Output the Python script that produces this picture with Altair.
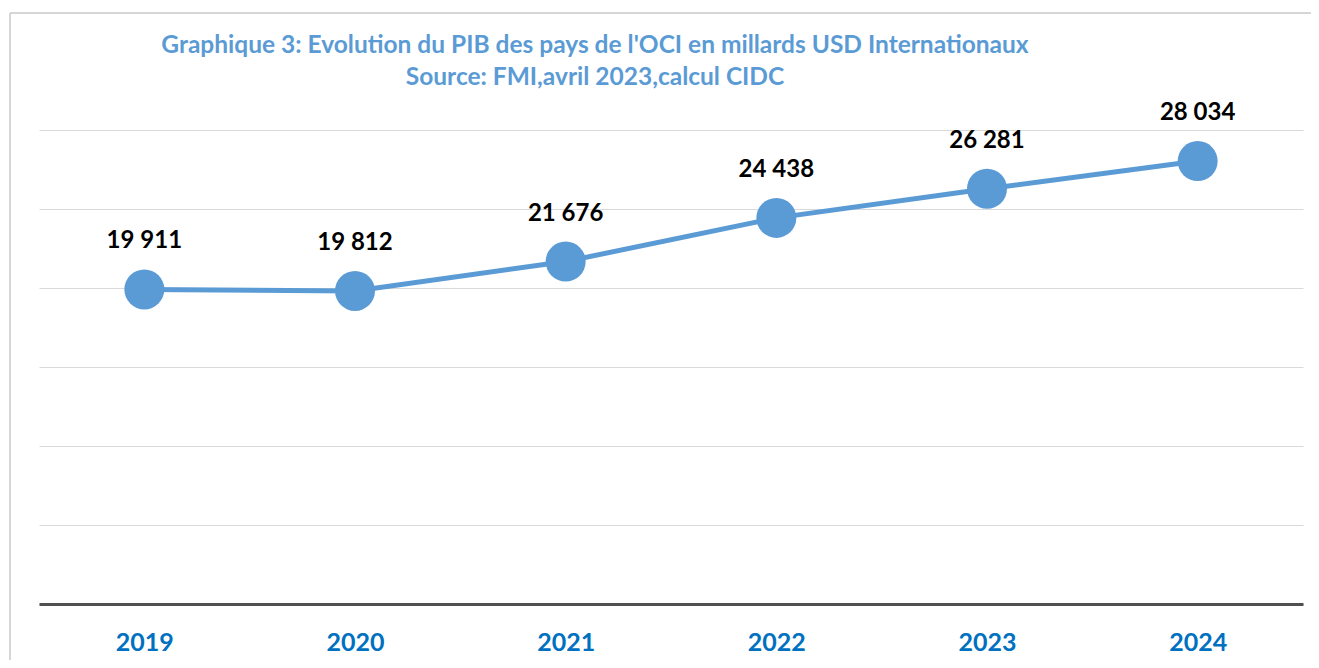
import altair as alt
import pandas as pd

years = ["2019", "2020", "2021", "2022", "2023", "2024"]
pib = [19911, 19812, 21676, 24438, 26281, 28034]
title_lines = [
    "Graphique 3: Evolution du PIB des pays de l'OCI en millards USD Internationaux",
    "Source: FMI,avril 2023,calcul CIDC",
]

df = pd.DataFrame({"annee": years, "pib": pib})
df["label"] = [f"{v:,}".replace(",", " ") for v in pib]

BLUE = "#5B9BD5"
FONT = "Lato"

x = alt.X("annee:N", sort=years, title=None,
          scale=alt.Scale(padding=0.5),
          axis=alt.Axis(labelAngle=0, labelColor="#0070C0", labelFont=FONT,
                        labelFontSize=25, labelFontWeight="bold", ticks=False,
                        labelPadding=26, domainColor="#505050", domainWidth=3,
                        grid=False))
y = alt.Y("pib:Q", title=None,
          scale=alt.Scale(domain=[0, 30000], nice=False),
          axis=alt.Axis(values=[0, 5000, 10000, 15000, 20000, 25000, 30000],
                        labels=False, ticks=False, domain=False,
                        gridColor="#D9D9D9", gridWidth=1))

one = pd.DataFrame({"a": [0]})
border_left = alt.Chart(one).mark_rule(color="#C8C8C8", strokeWidth=1.5).encode(
    x=alt.value(-29), y=alt.value(-117), y2=alt.value(700))
border_top = alt.Chart(one).mark_rule(color="#C8C8C8", strokeWidth=1.5).encode(
    x=alt.value(-29), x2=alt.value(1400), y=alt.value(-117))

base = alt.Chart(df)
line = base.mark_line(color=BLUE, strokeWidth=5).encode(x=x, y=y)
pts = base.mark_circle(color=BLUE, opacity=1, size=1600).encode(x=x, y=y)
txt = base.mark_text(font=FONT, fontSize=24, fontWeight="bold", color="#000000",
                     dy=-48).encode(x=x, y=y, text="label:N")

chart = alt.layer(border_left, border_top, line, pts, txt).properties(
    width=1264, height=474,
    padding={"left": 31, "top": 122, "right": 8, "bottom": 56},
    autosize=alt.AutoSizeParams(type="none"),
    title=alt.TitleParams(text=title_lines, font=FONT, fontSize=24.5, fontWeight="bold",
                          color=BLUE, anchor="middle", dx=-76, offset=-78,
                          lineHeight=32),
).configure_view(stroke=None)

chart.save("out.html", embed_options={"renderer": "svg", "actions": False})
